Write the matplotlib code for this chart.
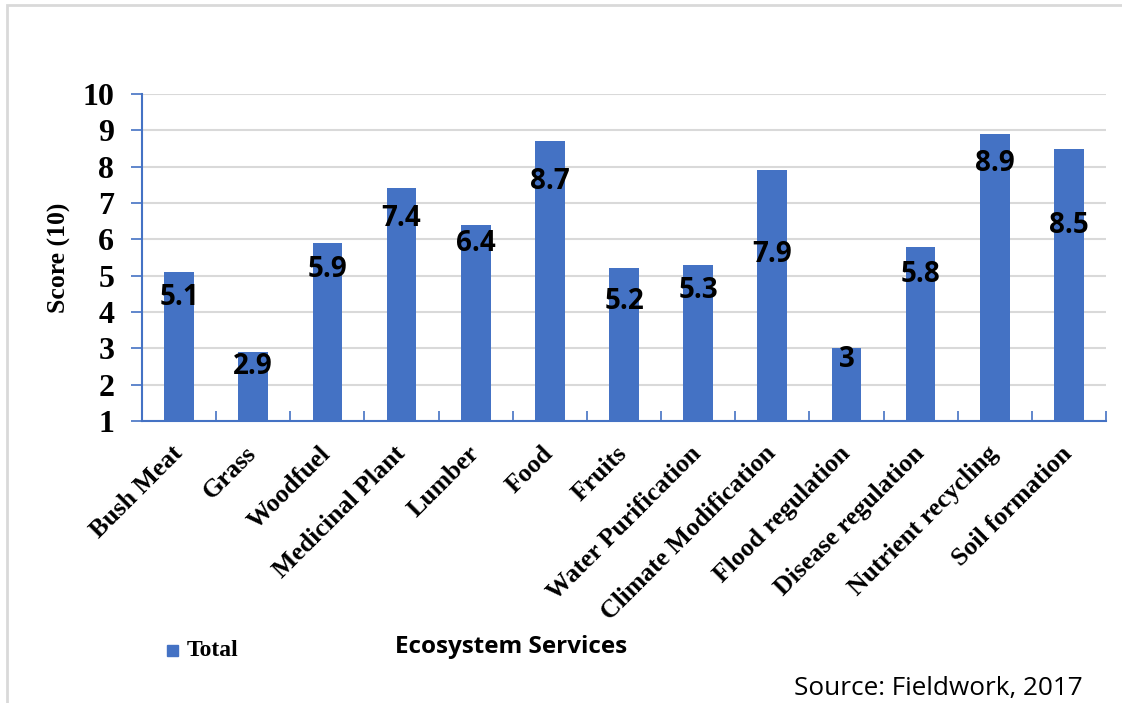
import matplotlib
matplotlib.use("Agg")
import matplotlib.pyplot as plt
from matplotlib.patches import Rectangle

categories = ["Bush Meat", "Grass", "Woodfuel", "Medicinal Plant", "Lumber", "Food",
              "Fruits", "Water Purification", "Climate Modification", "Flood regulation",
              "Disease regulation", "Nutrient recycling", "Soil formation"]
values = [5.1, 2.9, 5.9, 7.4, 6.4, 8.7, 5.2, 5.3, 7.9, 3, 5.8, 8.9, 8.5]
value_labels = ["5.1", "2.9", "5.9", "7.4", "6.4", "8.7", "5.2", "5.3", "7.9", "3", "5.8", "8.9", "8.5"]
# vertical position (in data units) where each data label sits
label_pos = [4.41, 2.51, 5.16, 6.56, 5.88, 7.58, 4.28, 4.58, 5.57, 2.68, 5.02, 8.10, 6.37]
y_ticks = [1, 2, 3, 4, 5, 6, 7, 8, 9, 10]

BLUE = "#4472C4"
GRID = "#d9d9d9"
SERIF = "Liberation Serif"
SANS = "Open Sans"

W, H = 1122, 703
fig = plt.figure(figsize=(W / 100, H / 100), dpi=100)
ax = fig.add_axes([142 / W, 1 - 421 / H, (1106 - 142) / W, (421 - 94) / H])

x = list(range(len(categories)))
base = y_ticks[0]
ax.bar(x, [v - base for v in values], bottom=base, width=0.4, color=BLUE, zorder=3)

ax.set_ylim(y_ticks[0], y_ticks[-1])
ax.set_xlim(-0.5, len(categories) - 0.5)
ax.set_yticks(y_ticks)
ax.set_yticklabels([str(t) for t in y_ticks], fontfamily=SERIF, fontweight="bold", fontsize=23)
ax.tick_params(axis="y", direction="out", length=8, width=1.2, color=BLUE, pad=12)

ax.set_xticks([i - 0.5 for i in range(len(categories) + 1)], minor=False)
ax.set_xticklabels([])
ax.tick_params(axis="x", direction="in", length=7, width=1.2, color=BLUE)
for i, c in enumerate(categories):
    ax.annotate(c, xy=(i, base), xycoords="data", xytext=(-6, -15), textcoords="offset points",
                rotation=45, ha="right", va="top", rotation_mode="anchor",
                fontfamily=SERIF, fontweight="bold", fontsize=18.5)

ax.grid(axis="y", color=GRID, linewidth=1.5, zorder=0)
for s in ["top", "right"]:
    ax.spines[s].set_visible(False)
for s in ["left", "bottom"]:
    ax.spines[s].set_color(BLUE)
    ax.spines[s].set_linewidth(1.5)
ax.spines["bottom"].set_zorder(4)

for i, (lab, p) in enumerate(zip(value_labels, label_pos)):
    ax.text(i, p, lab, ha="center", va="center", fontfamily=SANS, fontweight="bold",
            fontsize=20, zorder=5)

ax.set_ylabel("Score (10)", fontfamily=SERIF, fontweight="bold", fontsize=18.5, labelpad=8)

# legend
fig.patches.append(Rectangle((167 / W, 1 - 656 / H), 11 / W, 11 / H, transform=fig.transFigure,
                             color=BLUE, figure=fig))
fig.text(187 / W, 1 - 650 / H, "Total", ha="left", va="center", fontfamily=SERIF,
         fontweight="bold", fontsize=17)
fig.text(511 / W, 1 - 647 / H, "Ecosystem Services", ha="center", va="center",
         fontfamily=SANS, fontweight="bold", fontsize=17.5)
fig.text(1083 / W, 1 - 688 / H, "Source: Fieldwork, 2017", ha="right", va="center",
         fontfamily=SANS, fontsize=18.8)

# outer frame
fig.patches.append(Rectangle((7 / W, -0.1), 1.2, 1 - 5 / H + 0.1, transform=fig.transFigure,
                             fill=False, edgecolor=GRID, linewidth=2, figure=fig))

fig.savefig("out.png", dpi=100)
